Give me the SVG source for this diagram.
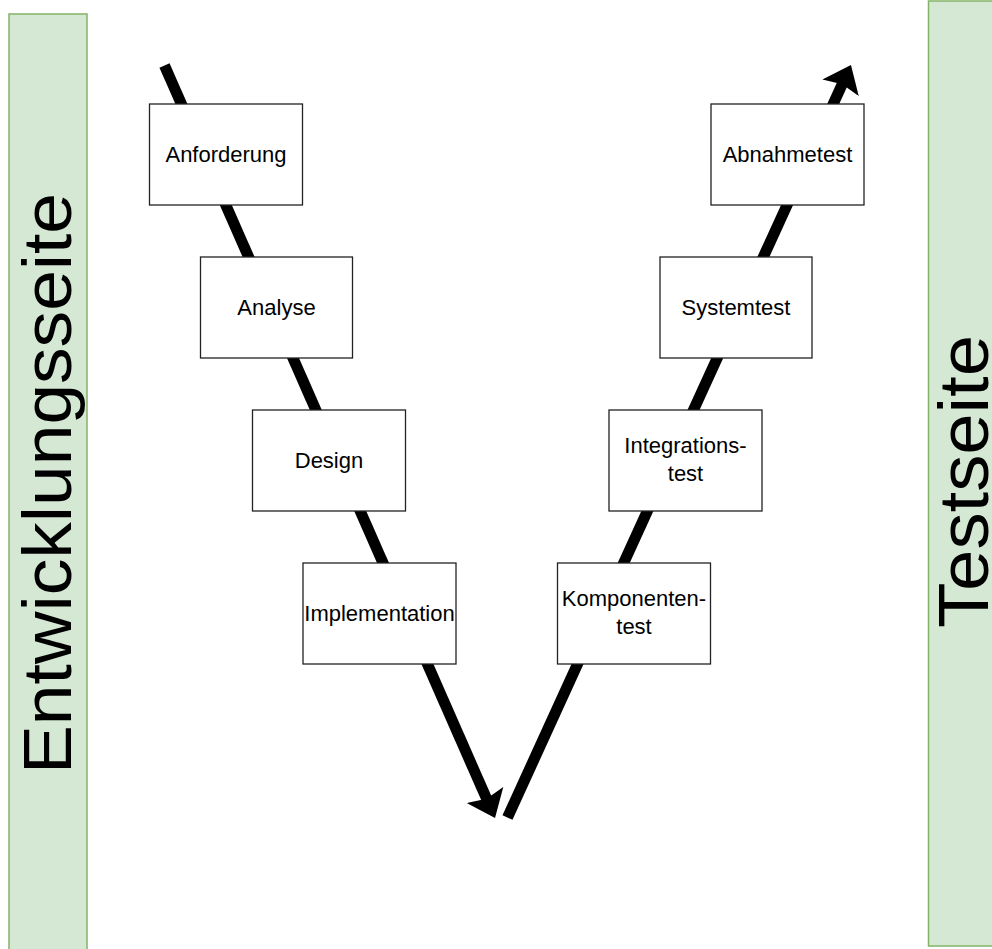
<svg xmlns="http://www.w3.org/2000/svg" width="992" height="949" viewBox="0 0 992 949">
  <defs>
    <style>
      .side { fill: #d5e8d4; stroke: #82b366; stroke-width: 1.5; }
      .side-label { font-family: "Liberation Sans", Arial, sans-serif; fill: #000; text-anchor: middle; }
      .step rect { fill: #fff; stroke: #222; stroke-width: 1.3; }
      .step text { font-family: "Liberation Sans", Arial, sans-serif; font-size: 22px; fill: #000; text-anchor: middle; }
      .flow { fill: none; stroke: #000; stroke-width: 11; stroke-linecap: butt; }
    </style>
    <marker id="head" markerUnits="userSpaceOnUse" viewBox="0 -21 26 42" markerWidth="26" markerHeight="42" refX="8" refY="0" orient="auto">
      <path d="M0,-20 L25,0 L0,20 L4,0 Z" fill="#000"/>
    </marker>
  </defs>

  <!-- side bands -->
  <g id="entwicklungsseite">
    <rect class="side" x="9" y="14" width="78" height="950"/>
    <text class="side-label" font-size="69" textLength="581" lengthAdjust="spacingAndGlyphs" transform="translate(71,483.5) rotate(-90)">Entwicklungsseite</text>
  </g>
  <g id="testseite">
    <rect class="side" x="928.5" y="1" width="80" height="945"/>
    <text class="side-label" font-size="70" textLength="293" lengthAdjust="spacingAndGlyphs" transform="translate(988,481.5) rotate(-90)">Testseite</text>
  </g>

  <!-- V-shaped flow arrows -->
  <g id="connectors">
    <path class="flow" d="M164.5,65.5 L488.2,802.4" marker-end="url(#head)"/>
    <path class="flow" d="M507.5,817.5 L843.9,80.5" marker-end="url(#head)"/>
  </g>

  <!-- development steps -->
  <g id="anforderung" class="step">
    <rect x="149.5" y="104" width="153" height="101"/>
    <text x="226" y="162">Anforderung</text>
  </g>
  <g id="analyse" class="step">
    <rect x="200.5" y="257" width="152" height="101"/>
    <text x="276.5" y="315">Analyse</text>
  </g>
  <g id="design" class="step">
    <rect x="252.5" y="410" width="153" height="101"/>
    <text x="329" y="468">Design</text>
  </g>
  <g id="implementation" class="step">
    <rect x="303" y="563" width="153" height="101"/>
    <text x="379.5" y="621">Implementation</text>
  </g>

  <!-- test steps -->
  <g id="komponententest" class="step">
    <rect x="557.5" y="563" width="153" height="101"/>
    <text x="634" y="606">Komponenten-</text>
    <text x="634" y="634">test</text>
  </g>
  <g id="integrationstest" class="step">
    <rect x="609" y="410" width="153" height="101"/>
    <text x="685.5" y="453">Integrations-</text>
    <text x="685.5" y="481">test</text>
  </g>
  <g id="systemtest" class="step">
    <rect x="660" y="257" width="152" height="101"/>
    <text x="736" y="315">Systemtest</text>
  </g>
  <g id="abnahmetest" class="step">
    <rect x="711" y="104" width="153" height="101"/>
    <text x="787.5" y="162">Abnahmetest</text>
  </g>
</svg>
